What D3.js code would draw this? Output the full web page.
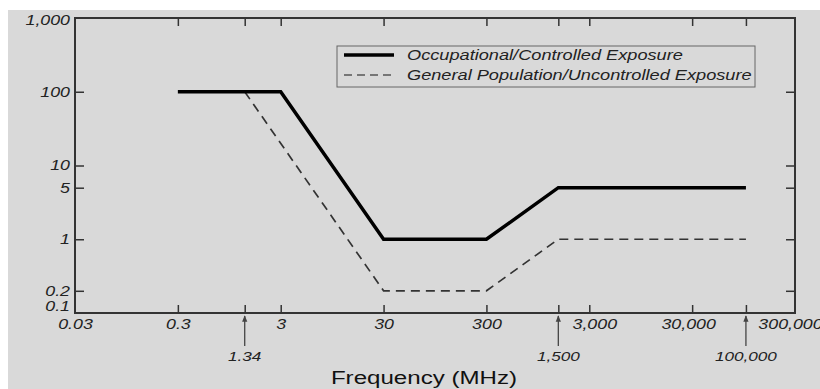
<!DOCTYPE html>
<html>
<head>
<meta charset="utf-8">
<script src="https://cdn.jsdelivr.net/npm/d3@7"></script>
<style>
  html, body { margin: 0; padding: 0; background: #fff; }
  svg { display: block; font-family: "Liberation Sans", Arial, sans-serif; }
</style>
</head>
<body>
<div id="chart"></div>
<script>
// values
const occFreq = [0.3, 3, 30, 300, 1500, 100000];
const occValue = [100, 100, 1, 1, 5, 5];
const genFreq = [1.34, 30, 300, 1500, 100000];
const genValue = [100, 0.2, 0.2, 1, 1];

const xLabelTicks = [0.03, 0.3, 3, 30, 300, 3000, 30000, 300000];
const xMarkTicks = [0.3, 1.34, 3, 30, 300, 1500, 3000, 30000, 100000];
const arrowTicks = [1.34, 1500, 100000];
const arrowLabels = ["1.34", "1,500", "100,000"];
const yLabelTicks = [1000, 100, 10, 5, 1, 0.2, 0.1];
const yMarkTicks = [100, 10, 5, 1, 0.2];
const seriesNames = ["Occupational/Controlled Exposure", "General Population/Uncontrolled Exposure"];
const xTitle = "Frequency (MHz)";

const W = 820, H = 389;
const margin = { top: 18, right: 25, bottom: 76, left: 75 };
const SX = 1.27; // the source picture is stretched sideways, text too
const axisColor = "#333";
const textColor = "#222";

const svg = d3.select("#chart").append("svg").attr("width", W).attr("height", H);

svg.append("rect")
  .attr("x", 8).attr("y", 10)
  .attr("width", W - 8).attr("height", H - 10)
  .attr("fill", "#d9d9d9");

const x = d3.scaleLog().domain([0.03, 300000]).range([margin.left, W - margin.right]);
const y = d3.scaleLog().domain([0.1, 1000]).range([H - margin.bottom, margin.top]);

const fmt = d3.format(",");

function stretch(sel, sx) {
  sel.attr("transform", `scale(${sx || SX},1)`);
}

// tick marks, inward on all four sides
const bottomMarks = svg.append("g")
  .attr("transform", `translate(0,${y(0.1)})`)
  .call(d3.axisBottom(x).tickValues(xMarkTicks).tickSize(-8).tickFormat(""));
const topMarks = svg.append("g")
  .attr("transform", `translate(0,${y(1000)})`)
  .call(d3.axisTop(x).tickValues(xMarkTicks).tickSize(-8).tickFormat(""));
const leftMarks = svg.append("g")
  .attr("transform", `translate(${x(0.03)},0)`)
  .call(d3.axisLeft(y).tickValues(yMarkTicks).tickSize(-9).tickFormat(""));
const rightMarks = svg.append("g")
  .attr("transform", `translate(${x(300000)},0)`)
  .call(d3.axisRight(y).tickValues(yMarkTicks).tickSize(-9).tickFormat(""));
[bottomMarks, topMarks, leftMarks, rightMarks].forEach(g => {
  g.select(".domain").remove();
  g.selectAll(".tick line").attr("stroke", axisColor).attr("stroke-width", 1.5);
});

// frame
svg.append("rect")
  .attr("x", x(0.03)).attr("y", y(1000))
  .attr("width", x(300000) - x(0.03))
  .attr("height", y(0.1) - y(1000))
  .attr("fill", "none")
  .attr("stroke", axisColor)
  .attr("stroke-width", 2);

// tick labels
const xLab = svg.append("g")
  .attr("transform", `translate(0,${y(0.1)})`)
  .call(d3.axisBottom(x).tickValues(xLabelTicks).tickSize(0).tickPadding(6).tickFormat(fmt));
xLab.select(".domain").remove();
xLab.selectAll(".tick text")
  .attr("font-size", 14).attr("font-style", "italic")
  .attr("fill", textColor)
  .attr("font-family", "Liberation Sans, Arial, sans-serif")
  .attr("x", d => d === 300000 ? -5 / SX : d === 3000 ? 5 / SX : d === 30000 ? -4 / SX : 0)
  .call(stretch);

const yLab = svg.append("g")
  .attr("transform", `translate(${x(0.03)},0)`)
  .call(d3.axisLeft(y).tickValues(yLabelTicks).tickSize(0).tickPadding(5).tickFormat(fmt));
yLab.select(".domain").remove();
yLab.selectAll(".tick text")
  .attr("font-size", 14).attr("font-style", "italic")
  .attr("fill", textColor)
  .attr("font-family", "Liberation Sans, Arial, sans-serif")
  .attr("x", -5 / SX)
  .attr("dy", d => d === 0.1 ? "-0.15em" : d === 1000 ? "0.45em" : "0.32em")
  .call(stretch);

// arrows pointing at the break frequencies
svg.append("defs").append("marker")
  .attr("id", "arrow")
  .attr("viewBox", "0 0 10 10")
  .attr("refX", 9).attr("refY", 5)
  .attr("markerWidth", 5).attr("markerHeight", 7)
  .attr("orient", "auto")
  .append("path")
  .attr("d", "M0,1L10,5L0,9Z")
  .attr("fill", "#444");

const arrows = svg.append("g").selectAll("g")
  .data(arrowTicks)
  .join("g")
  .attr("transform", d => `translate(${x(d)},0)`);
arrows.append("line")
  .attr("y1", 346).attr("y2", 316)
  .attr("stroke", "#444").attr("stroke-width", 1.3)
  .attr("marker-end", "url(#arrow)");
arrows.append("text")
  .attr("y", 356).attr("dy", "0.35em")
  .attr("text-anchor", "middle")
  .attr("font-size", 13.5).attr("font-style", "italic")
  .attr("fill", textColor)
  .text((d, i) => arrowLabels[i])
  .call(stretch);

// axis title
svg.append("g")
  .attr("transform", `translate(424,384)`)
  .append("text")
  .attr("text-anchor", "middle")
  .attr("font-size", 19)
  .attr("fill", "#111")
  .text(xTitle)
  .call(stretch);

// the two limit lines
const line = d3.line()
  .x(d => x(d[0]))
  .y(d => y(d[1]));

svg.append("path")
  .datum(genFreq.map((f, i) => [f, genValue[i]]))
  .attr("d", line)
  .attr("fill", "none")
  .attr("stroke", "#333")
  .attr("stroke-width", 1.7)
  .attr("stroke-dasharray", "9,6");

svg.append("path")
  .datum(occFreq.map((f, i) => [f, occValue[i]]))
  .attr("d", line)
  .attr("fill", "none")
  .attr("stroke", "#000")
  .attr("stroke-width", 3.5)
  .attr("stroke-linejoin", "miter");

// legend
const legend = svg.append("g").attr("transform", "translate(337,46)");
legend.append("rect")
  .attr("width", 418).attr("height", 41)
  .attr("fill", "none")
  .attr("stroke", "#666").attr("stroke-width", 1);
const items = legend.selectAll("g.item")
  .data(seriesNames)
  .join("g")
  .attr("class", "item")
  .attr("transform", (d, i) => `translate(0,${9 + i * 20})`);
items.append("line")
  .attr("x1", 7).attr("x2", 57)
  .attr("stroke", (d, i) => i === 0 ? "#000" : "#555")
  .attr("stroke-width", (d, i) => i === 0 ? 3.5 : 1.5)
  .attr("stroke-dasharray", (d, i) => i === 0 ? null : "8,5");
items.append("g")
  .attr("transform", "translate(70,0)")
  .append("text")
  .attr("dy", "0.36em")
  .attr("font-size", 14).attr("font-style", "italic")
  .attr("fill", textColor)
  .text(d => d)
  .call(stretch, 1.3);
</script>
</body>
</html>
